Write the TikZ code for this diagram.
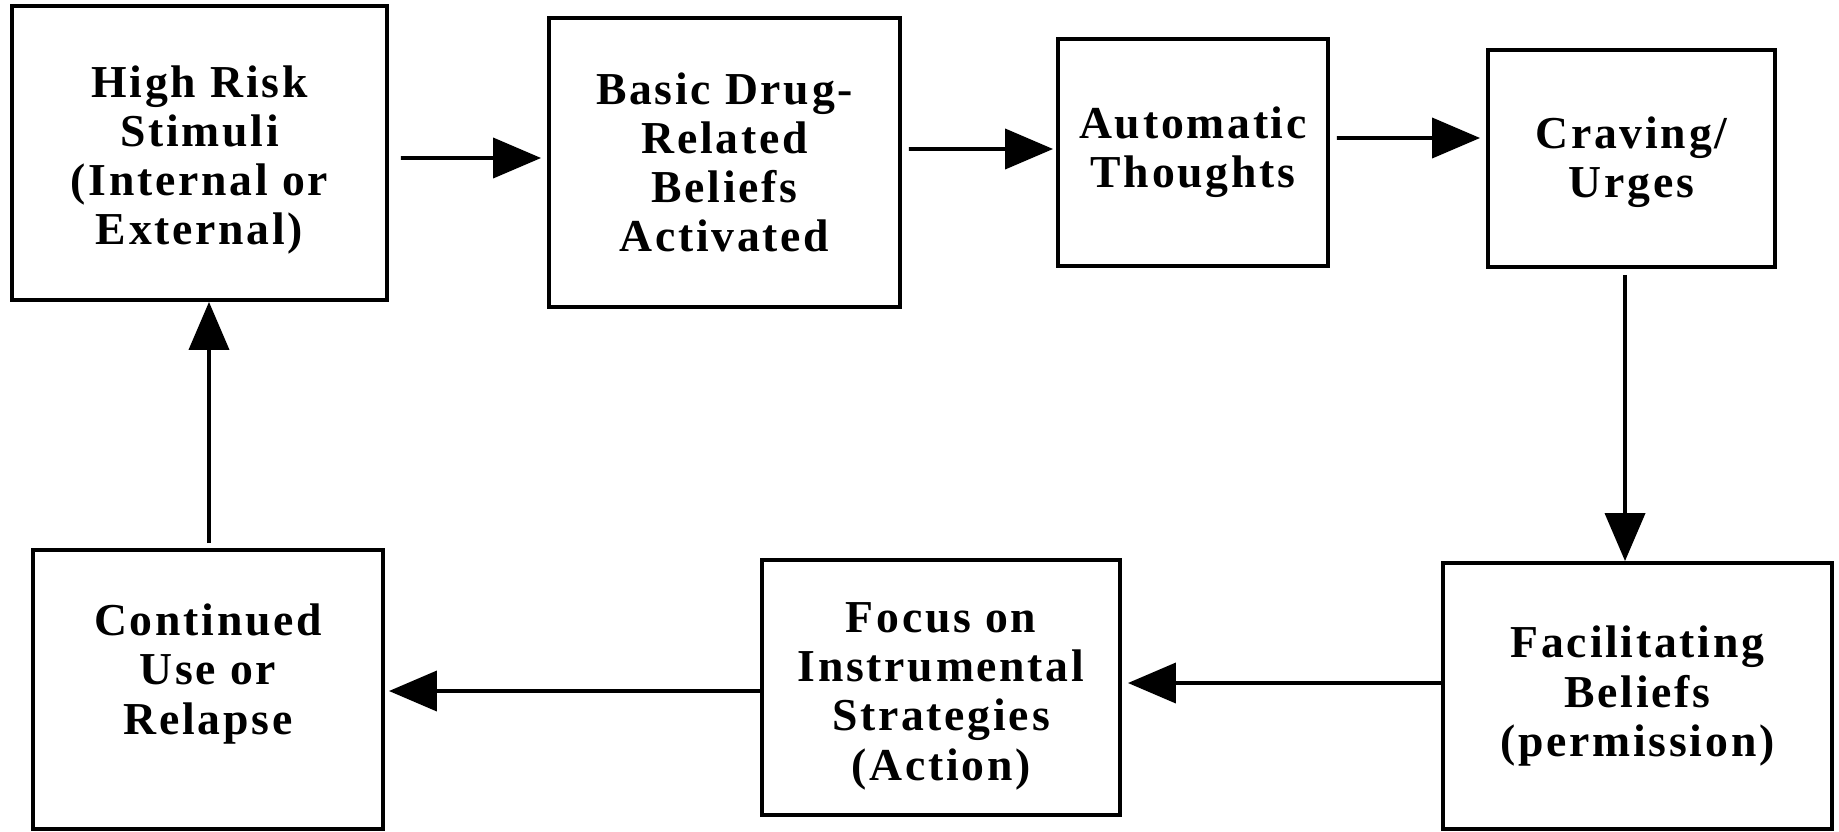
\documentclass[tikz,border=0pt]{standalone}
\usepackage{fontspec}
\setmainfont{Liberation Serif}[LetterSpace=6]
\usepackage{tikz}
\usetikzlibrary{shapes,arrows.meta}

\begin{document}
\begin{tikzpicture}[
    auto,
    block/.style={
      rectangle,
      draw,
      line width=1.1pt,
      align=center,
      inner sep=2pt,
      font=\fontsize{13}{14}\selectfont\bfseries
    },
    line/.style={draw, -{Triangle[length=0.48cm,width=0.40cm]}, line width=1.1pt},
]
    \useasboundingbox (0,0) rectangle (18.39,-8.31);

    \node [block, minimum width=3.75cm, minimum height=2.94cm, text height=1.93cm] (risk) at (1.995,-1.53) {High Risk\\Stimuli\\(Internal or\\External)};
    \node [block, minimum width=3.51cm, minimum height=2.89cm] (drug) at (7.245,-1.625) {Basic Drug-\\Related\\Beliefs\\Activated};
    \node [block, minimum width=2.70cm, minimum height=2.27cm] (thoughts) at (11.93,-1.525) {Automatic\\Thoughts};
    \node [block, minimum width=2.87cm, minimum height=2.17cm, text height=0.88cm] (craving) at (16.315,-1.585) {Craving/\\Urges};

    \node [block, minimum width=3.89cm, minimum height=2.66cm] (facil) at (16.375,-6.96) {Facilitating\\Beliefs\\(permission)};
    \node [block, minimum width=3.58cm, minimum height=2.55cm, text height=1.95cm] (focus) at (9.41,-6.875) {Focus on\\Instrumental\\Strategies\\(Action)};
    \node [block, minimum width=3.50cm, minimum height=2.79cm, text depth=0.41cm] (relapse) at (2.08,-6.895) {Continued\\Use or\\Relapse};

    \path [line] ([shift={(0.12,-0.05)}]risk.east) -- ([shift={(-0.06,0.045)}]drug.west);
    \path [line] ([shift={(0.07,0.135)}]drug.east) -- ([shift={(-0.03,0.035)}]thoughts.west);
    \path [line] ([shift={(0.07,0.145)}]thoughts.east) -- ([shift={(-0.06,0.205)}]craving.west);
    \path [line] ([shift={(-0.065,-0.06)}]craving.south) -- ([shift={(-0.125,0)}]facil.north);
    \path [line] ([shift={(0,0.13)}]facil.west) -- ([shift={(0.06,0.045)}]focus.east);
    \path [line] ([shift={(0,-0.035)}]focus.west) -- ([shift={(0.04,-0.015)}]relapse.east);
    \path [line] ([shift={(0.01,0.05)}]relapse.north) -- ([shift={(0.095,0)}]risk.south);

\end{tikzpicture}
\end{document}
